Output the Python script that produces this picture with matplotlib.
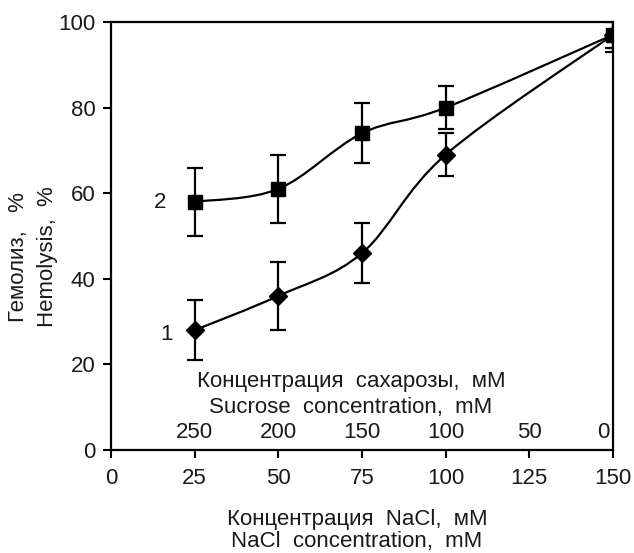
import numpy as np
import matplotlib
matplotlib.use("Agg")
import matplotlib.pyplot as plt
from matplotlib.path import Path
from matplotlib.patches import PathPatch

plt.rcParams['font.family'] = ['Liberation Sans', 'DejaVu Sans']
TXT = '#1a1a1a'
FS = 16

nacl = [25, 50, 75, 100, 150]
hem_1 = [28, 36, 46, 69, 97]
err_1 = [7, 8, 7, 5, 3]
hem_2 = [58, 61, 74, 80, 97]
err_2 = [8, 8, 7, 5, 4]

x_ticks = [0, 25, 50, 75, 100, 125, 150]
y_ticks = [0, 20, 40, 60, 80, 100]
sucrose_pos = [25, 50, 75, 100, 125, 147]
sucrose_labels = ['250', '200', '150', '100', '50', '0']


def smooth_path(xs, ys):
    # Excel-like smoothed line: Catmull-Rom converted to cubic Bezier
    pts = np.column_stack([xs, ys]).astype(float)
    n = len(pts)
    verts = [pts[0]]
    codes = [Path.MOVETO]
    for i in range(n - 1):
        p0 = pts[i - 1] if i > 0 else pts[i]
        p1 = pts[i]
        p2 = pts[i + 1]
        p3 = pts[i + 2] if i + 2 < n else pts[i + 1]
        c1 = p1 + (p2 - p0) / 6.0
        c2 = p2 - (p3 - p1) / 6.0
        verts += [c1, c2, p2]
        codes += [Path.CURVE4] * 3
    return Path(verts, codes)


fig = plt.figure(figsize=(6.34, 5.53), dpi=100)
ax = fig.add_axes([111 / 634, 103 / 553, 502 / 634, 428 / 553])

for ys in (hem_1, hem_2):
    ax.add_patch(PathPatch(smooth_path(nacl, ys), fill=False, lw=1.6,
                           ec='black', zorder=2))

ax.errorbar(nacl, hem_1, yerr=err_1, fmt='D', ms=9.5, color='black',
            ecolor='black', elinewidth=1.6, capsize=5.5, capthick=1.6, zorder=3)
ax.errorbar(nacl, hem_2, yerr=err_2, fmt='s', ms=10.5, color='black',
            ecolor='black', elinewidth=1.6, capsize=5.5, capthick=1.6, zorder=3)

ax.set_xlim(0, 150)
ax.set_ylim(0, 100)
ax.set_xticks(x_ticks)
ax.set_yticks(y_ticks)
ax.tick_params(direction='out', length=6, width=1.5, labelsize=FS,
               labelcolor=TXT, pad=5)
ax.tick_params(axis='x', pad=7)
for s in ax.spines.values():
    s.set_linewidth(1.6)

# sucrose scale inside the plot
for xp, lab in zip(sucrose_pos, sucrose_labels):
    ax.text(xp, 4.0, lab, ha='center', va='center', fontsize=FS, color=TXT)
ax.text(71.7, 15.9, 'Концентрация  сахарозы,  мМ', ha='center', va='center',
        fontsize=FS, color=TXT)
ax.text(71.7, 10.0, 'Sucrose  concentration,  mM', ha='center', va='center',
        fontsize=FS, color=TXT)

ax.text(14.6, 57.9, '2', ha='center', va='center', fontsize=FS, color=TXT)
ax.text(16.7, 26.9, '1', ha='center', va='center', fontsize=FS, color=TXT)

fig.text(357 / 634, 1 - 519 / 553, 'Концентрация  NaCl,  мМ', ha='center',
         va='center', fontsize=FS, color=TXT)
fig.text(357 / 634, 1 - 541 / 553, 'NaCl  concentration,  mM', ha='center',
         va='center', fontsize=FS, color=TXT)
fig.text(19 / 634, 1 - 257 / 553, 'Гемолиз,   %', rotation=90, ha='center',
         va='center', fontsize=FS, color=TXT)
fig.text(47 / 634, 1 - 257 / 553, 'Hemolysis,  %', rotation=90, ha='center',
         va='center', fontsize=FS, color=TXT)

fig.savefig('out.png', dpi=100)
